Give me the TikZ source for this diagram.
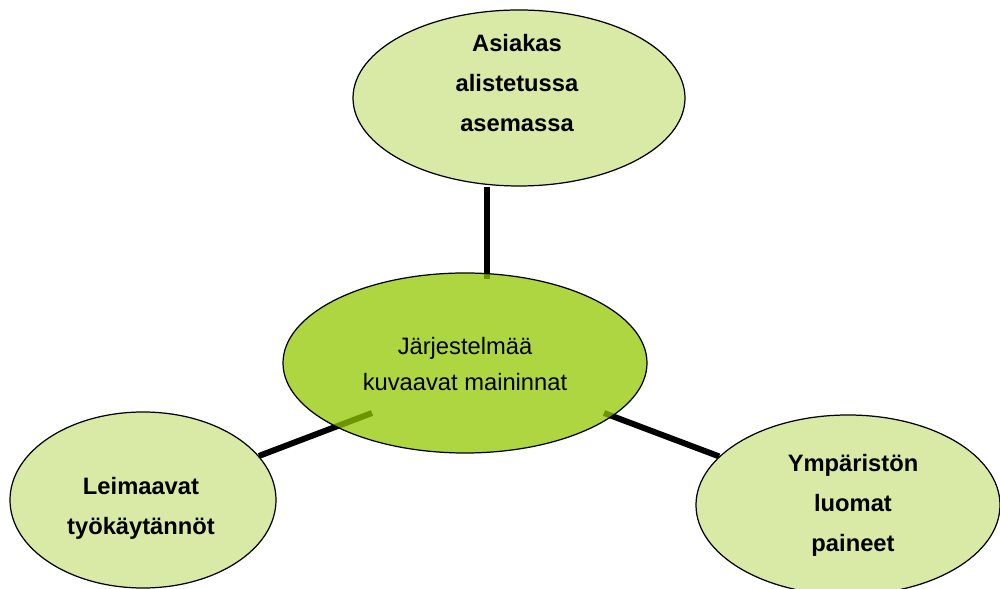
\documentclass[tikz,border=0pt]{standalone}
\usepackage{fontspec}
\setmainfont{Liberation Sans}
\usepackage{xcolor}
\definecolor{vaaleavihrea}{RGB}{217,234,166}
\definecolor{keskivihrea}{RGB}{146,200,0}
\usepackage{tikz}
\usetikzlibrary{shapes.geometric}
\usetikzlibrary{backgrounds}
\tikzset{
  pallo/.style={ellipse, draw=black, line width=0.7pt, fill=vaaleavihrea, inner sep=0pt},
  keskus/.style={ellipse, draw=black, line width=0.7pt, fill=keskivihrea, fill opacity=0.75, inner sep=0pt},
  teksti/.style={align=center, font=\bfseries\fontsize{13.5pt}{22.7pt}\selectfont},
  keskiteksti/.style={align=center, font=\fontsize{13.5pt}{21pt}\selectfont},
  yhteys/.style={line width=3.4pt, black}
}

\begin{document}
\begin{tikzpicture}
\useasboundingbox (0,0) rectangle (20,11.78);

% ellipsit
\node[pallo, minimum width=6.64cm, minimum height=3.52cm] (asiakas) at (10.38,9.82) {};
\node[keskus, minimum width=7.28cm, minimum height=3.6cm] (jarjestelma) at (9.3,4.52) {};
\node[pallo, minimum width=5.32cm, minimum height=3.52cm] (leimaavat) at (2.86,1.78) {};
\node[pallo, minimum width=6.08cm, minimum height=3.6cm] (ymparisto) at (16.96,1.68) {};

% viivojen paat keskiellipsin sisalla
\coordinate (kYla) at (9.74,6.2);
\coordinate (kVasen) at (7.44,3.52);
\coordinate (kOikea) at (12.08,3.52);

\begin{pgfonlayer}{background}
\draw[yhteys] (kYla |- asiakas.south) -- (kYla);
\draw[yhteys] (leimaavat) -- (kVasen);
\draw[yhteys] (ymparisto) -- (kOikea);
\end{pgfonlayer}

\node[teksti] (asiakasT) at ([xshift=-0.04cm, yshift=0.3cm]asiakas.center) {Asiakas\\alistetussa\\asemassa};
\node[keskiteksti] (jarjestelmaT) at ([yshift=-0.02cm]jarjestelma.center) {Järjestelmää\\kuvaavat maininnat};
\node[teksti] (leimaavatT) at ([xshift=-0.04cm, yshift=-0.16cm]leimaavat.center) {Leimaavat\\työkäytännöt};
\node[teksti] (ymparistoT) at ([xshift=0.1cm]ymparisto.center) {Ympäristön\\luomat\\paineet};
\end{tikzpicture}
\end{document}
